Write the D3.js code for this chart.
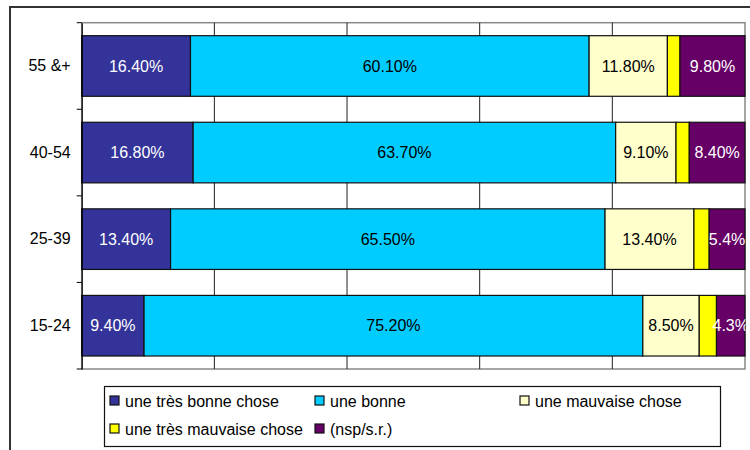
<!DOCTYPE html>
<html><head><meta charset="utf-8">
<script src="https://cdn.jsdelivr.net/npm/d3@7"></script>
<style>body{margin:0;background:#fff}svg{display:block}svg text{font-family:"Liberation Sans",Arial,sans-serif}</style>
</head><body>
<svg id="c" width="750" height="450"></svg>
<script>
const categories = ["55 &+", "40-54", "25-39", "15-24"];
const seriesNames = ["une très bonne chose", "une bonne", "une mauvaise chose", "une très mauvaise chose", "(nsp/s.r.)"];
const seriesColors = ["#333399", "#00CCFF", "#FFFFCC", "#FFFF00", "#660066"];
const labelColors = ["#fff", "#000", "#000", null, "#fff"];
const tresBonne = [16.4, 16.8, 13.4, 9.4];
const bonne = [60.1, 63.7, 65.5, 75.2];
const mauvaise = [11.8, 9.1, 13.4, 8.5];
const tresMauvaise = [1.9, 2.0, 2.3, 2.6];
const nsp = [9.8, 8.4, 5.4, 4.3];
const labelsTresBonne = ["16.40%", "16.80%", "13.40%", "9.40%"];
const labelsBonne = ["60.10%", "63.70%", "65.50%", "75.20%"];
const labelsMauvaise = ["11.80%", "9.10%", "13.40%", "8.50%"];
const labelsNsp = ["9.80%", "8.40%", "5.4%", "4.3%"];
const xTicks = [0, 20, 40, 60, 80, 100];

const series = [tresBonne, bonne, mauvaise, tresMauvaise, nsp];
const labels = [labelsTresBonne, labelsBonne, labelsMauvaise, null, labelsNsp];
const keys = seriesNames;
const table = categories.map((c, i) => {
  const o = {cat: c};
  keys.forEach((k, j) => o[k] = series[j][i]);
  return o;
});

const svg = d3.select("#c");
const m = {l: 81.7, r: 745, t: 22.7, b: 369};

// outer frame
svg.append("rect").attr("x", 10).attr("y", 7).attr("width", 760).attr("height", 460)
  .attr("fill", "#fff").attr("stroke", "#333").attr("stroke-width", 2);

const x = d3.scaleLinear().domain([0, 100]).range([m.l, m.r]);
const y = d3.scaleBand().domain(categories).range([m.t, m.b]).paddingInner(0.3).paddingOuter(0.15);

// plot border
svg.append("rect").attr("x", m.l).attr("y", m.t).attr("width", m.r - m.l).attr("height", m.b - m.t)
  .attr("fill", "#fff").attr("stroke", "#888").attr("stroke-width", 1.5);

// gridlines
svg.append("g").selectAll("line").data(xTicks.slice(1, -1)).join("line")
  .attr("x1", d => x(d)).attr("x2", d => x(d)).attr("y1", m.t).attr("y2", m.b)
  .attr("stroke", "#222").attr("stroke-width", 1);

const stack = d3.stack().keys(keys)(table);

svg.append("defs").append("clipPath").attr("id", "clip").append("rect")
  .attr("x", m.l).attr("y", m.t).attr("width", m.r - m.l + 0.5).attr("height", m.b - m.t);

const g = svg.append("g");
stack.forEach((s, j) => {
  g.append("g").selectAll("rect").data(s).join("rect")
    .attr("x", d => x(d[0])).attr("width", d => x(d[1]) - x(d[0]))
    .attr("y", d => y(d.data.cat)).attr("height", y.bandwidth())
    .attr("fill", seriesColors[j]).attr("stroke", "#111").attr("stroke-width", 1.2);
});
const lg = svg.append("g").attr("clip-path", "url(#clip)");
stack.forEach((s, j) => {
  if (!labels[j]) return;
  lg.append("g").selectAll("text").data(s).join("text")
    .attr("x", d => (x(d[0]) + x(d[1])) / 2)
    .attr("y", d => y(d.data.cat) + y.bandwidth() / 2)
    .attr("dy", "0.36em").attr("text-anchor", "middle")
    .attr("font-size", 16).attr("fill", labelColors[j])
    .text((d, i) => labels[j][i]);
});

// y axis
const yAxis = d3.axisLeft(y).tickSize(0).tickPadding(11);
const ya = svg.append("g").attr("transform", `translate(${m.l},0)`).call(yAxis);
ya.select(".domain").attr("stroke", "#000").attr("stroke-width", 1.2);
ya.selectAll("text").attr("font-size", 16).attr("fill", "#000");
// category separator ticks
const sep = d3.range(categories.length + 1).map(i => m.t + i * (m.b - m.t) / categories.length);
svg.append("g").selectAll("line").data(sep).join("line")
  .attr("x1", m.l - 5).attr("x2", m.l).attr("y1", d => d).attr("y2", d => d)
  .attr("stroke", "#000").attr("stroke-width", 1);

// legend
svg.append("rect").attr("x", 104.5).attr("y", 386.5).attr("width", 616).attr("height", 60)
  .attr("fill", "#fff").attr("stroke", "#111").attr("stroke-width", 1.2);
const legPos = [[110, 401], [315, 401], [520, 401], [110, 429], [315, 429]];
keys.forEach((k, j) => {
  const [lx, ly] = legPos[j];
  svg.append("rect").attr("x", lx).attr("y", ly - 5).attr("width", 9).attr("height", 9)
    .attr("fill", seriesColors[j]).attr("stroke", "#111").attr("stroke-width", 1.2);
  svg.append("text").attr("x", lx + 15).attr("y", ly).attr("dy", "0.36em")
    .attr("font-size", 16).attr("fill", "#000").text(k);
});
</script>
</body></html>
